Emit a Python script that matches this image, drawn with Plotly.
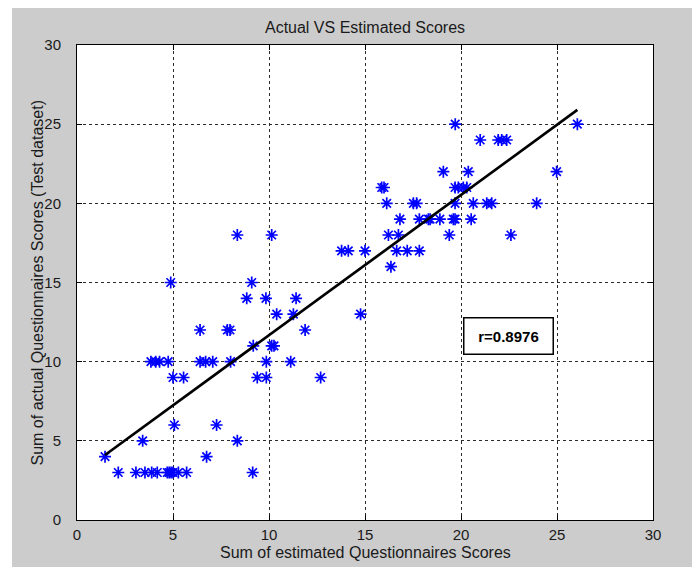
import plotly.graph_objects as go

# Estimated (x) and actual (y) questionnaire score sums, test dataset
est_scores = [
    2.15, 3.07, 3.54, 3.89, 4.18, 4.70, 4.80, 4.90, 5.00, 5.28, 5.71, 9.15,
    1.46, 6.75,
    3.42, 8.35,
    5.07, 7.27,
    5.00, 5.55, 9.39, 9.86, 12.69,
    3.85, 4.10, 4.30, 4.75, 6.41, 6.70, 7.07, 8.00, 9.86, 11.13,
    9.18, 10.14, 10.26,
    6.41, 7.83, 7.97, 11.88,
    10.40, 11.27, 14.77,
    8.84, 9.84, 11.41,
    4.88, 9.10,
    16.35,
    13.78, 14.13, 15.00, 16.65, 17.20, 17.83,
    8.35, 10.14, 16.22, 16.74, 19.39, 22.60,
    16.82, 17.83, 18.30, 18.39, 18.90, 19.60, 19.69, 20.53,
    16.13, 17.52, 17.69, 19.69, 20.64, 21.34, 21.60, 23.94,
    15.87, 15.99, 19.69, 19.86, 20.12, 20.30,
    19.08, 20.38, 24.98,
    21.00, 21.94, 22.12, 22.38,
    19.70, 26.06,
]
actual_scores = [
    3, 3, 3, 3, 3, 3, 3, 3, 3, 3, 3, 3,
    4, 4,
    5, 5,
    6, 6,
    9, 9, 9, 9, 9,
    10, 10, 10, 10, 10, 10, 10, 10, 10, 10,
    11, 11, 11,
    12, 12, 12, 12,
    13, 13, 13,
    14, 14, 14,
    15, 15,
    16,
    17, 17, 17, 17, 17, 17,
    18, 18, 18, 18, 18, 18,
    19, 19, 19, 19, 19, 19, 19, 19,
    20, 20, 20, 20, 20, 20, 20, 20,
    21, 21, 21, 21, 21, 21,
    22, 22, 22,
    24, 24, 24, 24,
    25, 25,
]

# Least-squares line and correlation
fit_slope = 0.886
fit_intercept = 2.81
r_value = 0.8976

axis_ticks = [0, 5, 10, 15, 20, 25, 30]

x_min, x_max = min(est_scores), max(est_scores)
fit_x = [x_min, x_max]
fit_y = [fit_slope * v + fit_intercept for v in fit_x]

W, H = 694, 567
ML, MR, MT, MB = 77, 41, 45, 47
font_family = "Liberation Sans, Arial, sans-serif"
text_color = "#1a1a1a"

fig = go.Figure()
fig.add_trace(go.Scatter(
    x=est_scores, y=actual_scores, mode="markers",
    marker=dict(symbol="asterisk-open", size=10, color="#0000ff",
                line=dict(color="#0000ff", width=1.7)),
    showlegend=False, hoverinfo="x+y",
))
fig.add_trace(go.Scatter(
    x=fit_x, y=fit_y, mode="lines",
    line=dict(color="black", width=2.7),
    showlegend=False, hoverinfo="skip",
))

axis_common = dict(
    range=[0, 30], tickvals=axis_ticks, ticktext=[str(t) for t in axis_ticks],
    showgrid=True, gridcolor="#2a2a2a", gridwidth=1, griddash="3px,3px",
    zeroline=False, showline=True, linecolor="black", linewidth=1, mirror="ticks",
    ticks="inside", ticklen=5, tickcolor="black",
    tickfont=dict(family=font_family, size=15, color=text_color),
    fixedrange=True, automargin=False,
)


def px_to_paper_x(px):
    return (px - ML) / (W - ML - MR)


def px_to_paper_y(py):
    return (H - MB - py) / (H - MT - MB)


# white outer strips around the grey figure area
strips = [
    (0, 0, W, 8),
    (0, 0, 12, H),
    (692, 0, W, H),
]
shapes = []
for x0, y0, x1, y1 in strips:
    shapes.append(dict(
        type="rect", xref="paper", yref="paper",
        x0=px_to_paper_x(x0), x1=px_to_paper_x(x1),
        y0=px_to_paper_y(y1), y1=px_to_paper_y(y0),
        fillcolor="white", line=dict(width=0), layer="above",
    ))

fig.update_layout(
    width=W, height=H, autosize=False,
    margin=dict(l=ML, r=MR, t=MT, b=MB, pad=0, autoexpand=False),
    paper_bgcolor="#cccccc", plot_bgcolor="white",
    font=dict(family=font_family, size=15, color=text_color),
    title=dict(text="Actual VS Estimated Scores", x=0.5 * (ML + W - MR) / W,
               xanchor="center", y=1 - 27 / H, yanchor="middle",
               font=dict(family=font_family, size=16, color=text_color)),
    xaxis=dict(**axis_common, ticklabelstandoff=1),
    yaxis=dict(**axis_common, ticklabelstandoff=12),
    shapes=shapes,
    annotations=[
        dict(
            x=22.45, y=11.65, xref="x", yref="y",
            text=f"<b>r={r_value:.4f}</b>", showarrow=False,
            font=dict(family=font_family, size=15, color="black"),
            bgcolor="white", bordercolor="black", borderwidth=1.5, borderpad=2,
            width=84, height=31, align="center",
        ),
        dict(
            x=0.5, y=px_to_paper_y(552), xref="paper", yref="paper",
            text="Sum of estimated Questionnaires Scores",
            showarrow=False, xanchor="center", yanchor="middle",
            font=dict(family=font_family, size=16, color=text_color),
        ),
        dict(
            x=px_to_paper_x(37), y=0.5, xref="paper", yref="paper",
            text="Sum of actual Questionnaires Scores (Test dataset)",
            textangle=-90, showarrow=False, xanchor="center", yanchor="middle",
            font=dict(family=font_family, size=16, color=text_color),
        ),
    ],
)

fig.write_html("out.html")
